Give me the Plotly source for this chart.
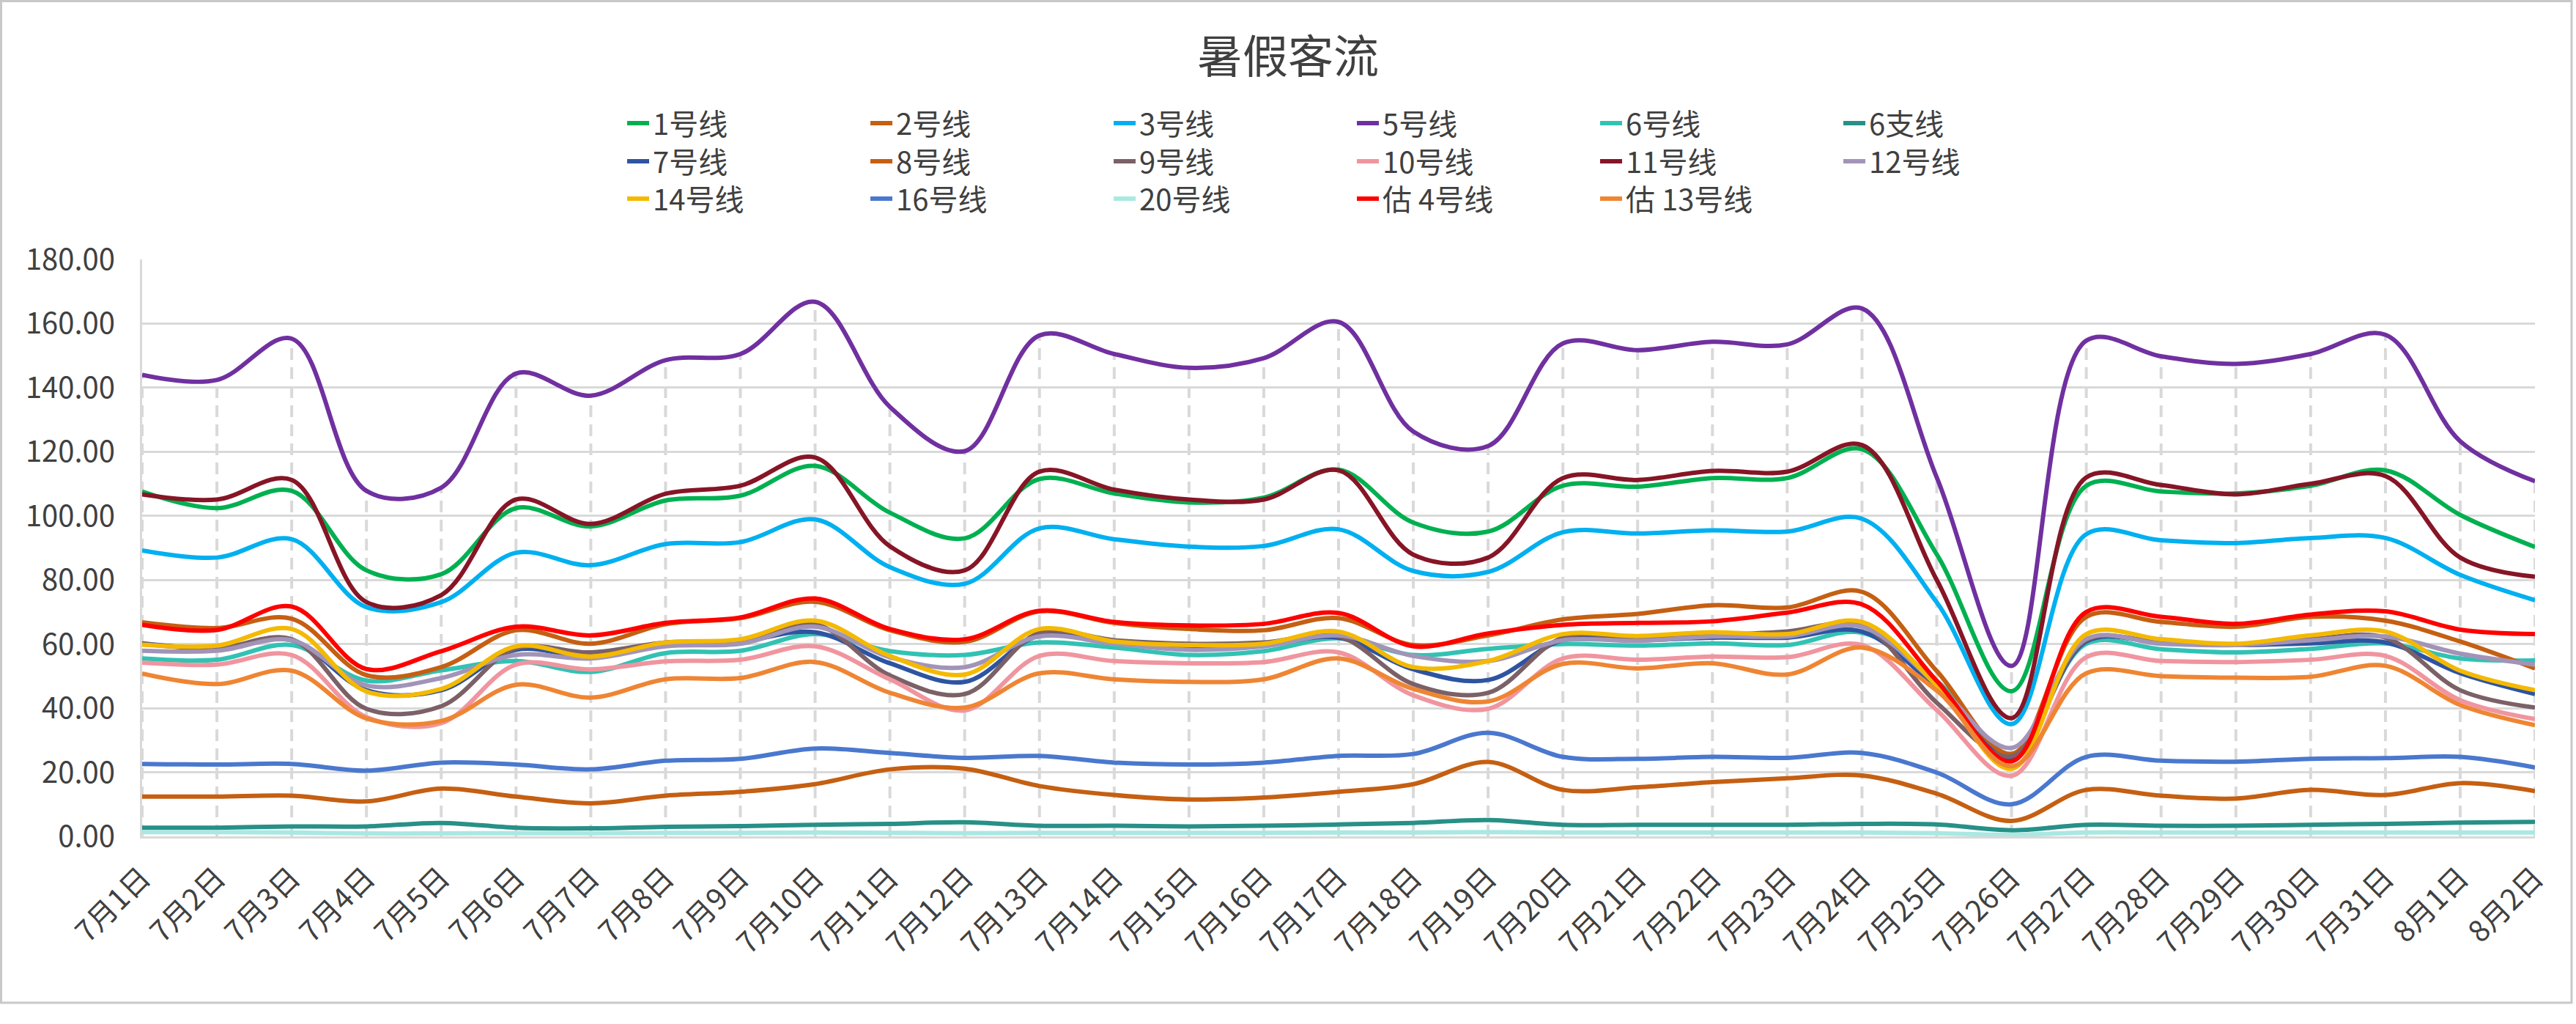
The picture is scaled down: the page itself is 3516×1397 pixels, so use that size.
import numpy as np
import plotly.graph_objects as go

categories = [f"7月{d}日" for d in range(1, 32)] + ["8月1日", "8月2日"]

line_1 = [107.6, 102.4, 107.8, 83.0, 81.8, 102.4, 96.7, 104.8, 106.3, 115.6, 101.0, 93.0, 111.5, 107.0, 104.2, 105.7, 114.4,
          97.9, 95.1, 109.4, 109.1, 111.8, 111.8, 120.8, 88.0, 45.3, 109.4, 107.6, 107.0, 109.4, 114.2, 100.3, 90.3]
line_2 = [12.4, 12.4, 12.7, 10.9, 14.9, 12.4, 10.3, 12.7, 13.9, 16.3, 20.9, 21.1, 15.7, 12.9, 11.5, 12.1, 13.9,
          16.3, 23.2, 14.5, 15.3, 16.9, 18.1, 19.0, 13.3, 4.8, 14.5, 12.7, 11.8, 14.5, 12.9, 16.6, 14.1]
line_3 = [89.2, 87.0, 92.7, 71.5, 73.1, 88.5, 84.6, 91.2, 91.8, 98.9, 84.0, 78.8, 96.1, 92.7, 90.4, 90.6, 95.8,
          82.8, 82.5, 94.9, 94.5, 95.5, 95.1, 99.1, 73.0, 35.0, 94.3, 92.4, 91.5, 93.1, 93.1, 81.6, 73.7]
line_5 = [144.0, 142.4, 155.3, 107.8, 108.8, 144.4, 137.5, 148.6, 150.5, 166.8, 134.0, 120.2, 156.3, 150.5, 146.2, 149.2, 160.5,
          126.3, 121.8, 153.8, 151.7, 154.3, 153.5, 164.7, 112.0, 53.2, 154.7, 149.8, 147.4, 150.5, 156.5, 123.3, 110.8]
line_6 = [55.5, 55.1, 59.7, 48.6, 51.8, 54.7, 51.3, 57.2, 57.9, 63.1, 57.8, 56.6, 60.5, 58.9, 56.6, 57.8, 61.8,
          56.6, 58.5, 60.0, 59.5, 60.2, 59.7, 63.5, 48.5, 25.7, 60.1, 58.4, 57.4, 58.5, 60.2, 55.5, 54.9]
line_6b = [2.7, 2.7, 3.1, 3.1, 4.2, 2.7, 2.5, 3.0, 3.2, 3.6, 3.9, 4.4, 3.3, 3.3, 3.1, 3.3, 3.7,
           4.2, 5.1, 3.6, 3.6, 3.6, 3.6, 3.9, 3.7, 1.9, 3.6, 3.3, 3.3, 3.6, 3.9, 4.3, 4.5]
line_7 = [60.2, 58.7, 61.2, 45.6, 45.6, 58.2, 55.9, 59.9, 60.8, 63.7, 54.0, 48.2, 62.7, 60.5, 58.9, 59.7, 62.0,
          52.1, 48.8, 61.2, 61.2, 62.0, 62.0, 63.9, 46.3, 24.6, 60.8, 60.5, 59.7, 60.2, 60.5, 50.9, 44.4]
line_8 = [66.8, 65.0, 67.9, 50.3, 52.8, 64.3, 60.1, 66.2, 68.1, 73.2, 64.3, 60.7, 70.2, 66.6, 64.7, 64.3, 68.1,
          59.7, 62.7, 67.7, 69.4, 72.1, 71.4, 76.3, 51.6, 25.7, 68.5, 66.9, 65.4, 68.5, 67.3, 60.8, 52.4]
line_9 = [60.1, 58.7, 61.5, 39.8, 40.6, 58.7, 57.4, 60.5, 61.2, 66.2, 50.2, 44.4, 63.5, 61.2, 60.1, 60.5, 62.4,
          47.5, 44.8, 62.0, 62.0, 62.7, 63.9, 65.8, 41.7, 25.0, 61.2, 60.5, 59.7, 61.5, 62.0, 45.6, 40.2]
line_10 = [54.2, 53.6, 56.6, 37.2, 35.3, 53.6, 52.1, 54.6, 55.1, 59.3, 49.0, 39.3, 56.3, 54.7, 54.0, 54.4, 57.4,
           44.0, 39.8, 55.5, 55.1, 56.1, 55.9, 59.7, 39.4, 18.9, 55.9, 54.7, 54.4, 55.1, 56.3, 42.5, 36.6]
line_11 = [106.7, 105.1, 111.2, 73.1, 75.3, 105.1, 97.5, 106.9, 109.4, 118.2, 90.5, 83.0, 113.8, 108.2, 105.1, 105.1, 114.2,
           87.9, 87.0, 111.8, 111.2, 114.0, 113.8, 122.1, 80.0, 36.9, 112.0, 109.6, 106.7, 110.0, 112.4, 87.0, 81.0]
line_12 = [57.9, 57.9, 61.2, 47.1, 49.4, 56.6, 55.5, 59.3, 60.1, 65.4, 55.9, 52.8, 62.4, 60.1, 58.2, 59.3, 62.7,
           56.3, 54.7, 61.2, 61.0, 62.4, 62.4, 65.4, 47.5, 27.6, 61.6, 60.1, 59.7, 61.2, 62.4, 57.0, 53.6]
line_14 = [59.8, 59.5, 64.7, 45.2, 46.0, 59.3, 56.1, 60.5, 61.5, 67.3, 56.3, 50.5, 64.7, 60.8, 59.7, 60.1, 63.9,
           52.8, 54.7, 63.1, 62.5, 63.7, 63.1, 66.9, 47.0, 21.1, 63.1, 61.5, 60.1, 62.7, 63.9, 51.7, 45.6]
line_16 = [22.6, 22.4, 22.6, 20.5, 23.0, 22.4, 20.9, 23.6, 24.2, 27.4, 26.0, 24.5, 25.1, 23.0, 22.4, 23.0, 25.1,
           25.7, 32.3, 24.8, 24.2, 24.8, 24.5, 26.0, 19.9, 10.0, 24.8, 23.6, 23.3, 24.2, 24.4, 24.8, 21.5]
line_20 = [1.3, 1.3, 1.2, 0.9, 0.9, 1.0, 1.0, 1.1, 1.1, 1.2, 1.1, 1.0, 1.1, 1.1, 1.1, 1.1, 1.2,
           1.2, 1.3, 1.2, 1.2, 1.2, 1.2, 1.2, 1.0, 0.5, 1.2, 1.2, 1.2, 1.2, 1.2, 1.2, 1.2]
est_4 = [66.0, 64.4, 71.7, 52.2, 57.8, 65.4, 62.7, 66.6, 68.3, 74.2, 64.7, 61.5, 70.4, 66.9, 65.8, 66.3, 69.7,
         59.3, 63.3, 66.0, 66.6, 67.1, 69.8, 72.4, 48.5, 23.4, 70.0, 68.5, 66.3, 69.2, 70.2, 64.5, 63.1]
est_13 = [50.8, 47.5, 51.7, 36.8, 36.0, 47.3, 43.3, 49.0, 49.4, 54.4, 44.8, 40.2, 50.9, 49.0, 48.2, 49.0, 55.5,
          46.0, 42.1, 53.8, 52.4, 54.0, 50.5, 58.9, 45.5, 21.9, 50.9, 50.0, 49.5, 49.8, 53.2, 41.0, 34.7]

series_names = ["1号线", "2号线", "3号线", "5号线", "6号线", "6支线",
                "7号线", "8号线", "9号线", "10号线", "11号线", "12号线",
                "14号线", "16号线", "20号线", "估 4号线", "估 13号线"]
series_values = [line_1, line_2, line_3, line_5, line_6, line_6b,
                 line_7, line_8, line_9, line_10, line_11, line_12,
                 line_14, line_16, line_20, est_4, est_13]
series_colors = ["#00B050", "#C55F12", "#00B0F0", "#7030A0", "#31C2B3", "#279087",
                 "#2E54A1", "#C55F12", "#7B6167", "#F0959F", "#861526", "#A294B8",
                 "#F4B900", "#4A78CE", "#AAE8E2", "#FF0000", "#EF8533"]

W, H = 3516, 1397
ML, MR, MT, MB = 194, 56, 354, 256
PW, PH = W - ML - MR, H - MT - MB
FONT = "Noto Sans CJK SC"
TXT = "#404040"
GRID = "#D9D9D9"

fig = go.Figure()

# drop lines (from highest series value down to the axis)
peak = np.max(np.array(series_values), axis=0)
dx, dy = [], []
for c, p in zip(categories, peak):
    dx += [c, c, None]
    dy += [0, float(p), None]
fig.add_trace(go.Scatter(x=dx, y=dy, mode="lines", showlegend=False, hoverinfo="skip",
                         line=dict(color=GRID, width=4, dash="16px,10px")))

for k, (name, vals, col) in enumerate(zip(series_names, series_values, series_colors)):
    leg = ["legend", "legend2", "legend3"][k // 6]
    fig.add_trace(go.Scatter(x=categories, y=vals, name=name, mode="lines", legend=leg,
                             line=dict(color=col, width=6, shape="spline", smoothing=1.0)))

def px_x(p):
    return (p - ML) / PW

def px_y(p):
    return (H - MB - p) / PH

leg_common = dict(orientation="h", xanchor="left", yanchor="middle", entrywidth=287,
                  entrywidthmode="pixels", font=dict(family=FONT, size=40, color=TXT),
                  bgcolor="rgba(0,0,0,0)", itemclick=False, itemdoubleclick=False)
lx = px_x(851)

fig.update_layout(
    width=W, height=H,
    margin=dict(l=ML, r=MR, t=MT, b=MB, autoexpand=False),
    paper_bgcolor="white", plot_bgcolor="white",
    font=dict(family=FONT, color=TXT),
    title=dict(text="暑假客流", x=0.5, xanchor="center", y=1 - 78 / H, yanchor="middle",
               font=dict(family=FONT, size=62, color=TXT)),
    legend=dict(x=lx, y=px_y(168), **leg_common),
    legend2=dict(x=lx, y=px_y(220), **leg_common),
    legend3=dict(x=lx, y=px_y(271), **leg_common),
    xaxis=dict(type="category", categoryorder="array", categoryarray=categories,
               showgrid=False, showline=True, linecolor=GRID, linewidth=3,
               tickangle=-45, ticks="", tickfont=dict(family=FONT, size=40, color=TXT),
               ticklabelstandoff=14, automargin=False),
    yaxis=dict(range=[0, 180], dtick=20, tickformat=".2f", showgrid=True, gridcolor=GRID,
               gridwidth=3, zeroline=False, showline=True, linecolor=GRID, linewidth=3,
               ticks="", tickfont=dict(family=FONT, size=40, color=TXT),
               ticklabelstandoff=26, automargin=False),
    shapes=[dict(type="rect", xref="paper", yref="paper", layer="below",
                 x0=px_x(1.5), x1=px_x(3510), y0=px_y(1368), y1=px_y(1.5),
                 line=dict(color="#C8C8C8", width=3), fillcolor="rgba(0,0,0,0)")],
    showlegend=True,
)

fig.write_html("out.html", config={"displayModeBar": False},
               post_script="document.body.style.margin='0';document.body.style.overflow='hidden';")
